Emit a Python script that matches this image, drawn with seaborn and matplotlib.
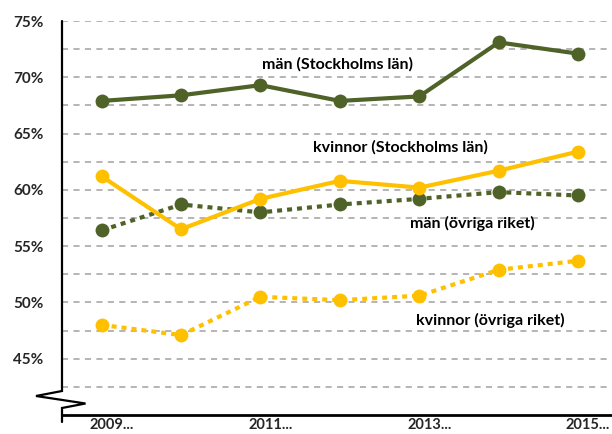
import matplotlib
matplotlib.use("Agg")
import matplotlib.pyplot as plt
import matplotlib.transforms as mtransforms
from matplotlib.lines import Line2D
import seaborn as sns
import pandas as pd

years = [2009, 2010, 2011, 2012, 2013, 2014, 2015]
tick_labels = ["2009...", "2011...", "2013...", "2015..."]
man_sthlm = [67.9, 68.4, 69.3, 67.9, 68.3, 73.1, 72.1]
kv_sthlm = [61.2, 56.5, 59.2, 60.8, 60.2, 61.7, 63.4]
man_ovr = [56.4, 58.7, 58.0, 58.7, 59.2, 59.8, 59.5]
kv_ovr = [48.0, 47.1, 50.5, 50.2, 50.6, 52.9, 53.7]
series_names = ["män (Stockholms län)", "kvinnor (Stockholms län)",
                "män (övriga riket)", "kvinnor (övriga riket)"]

GREEN = "#4F6228"
YELLOW = "#FFC000"

sns.set_style("white")
plt.rcParams["font.family"] = ["Lato", "DejaVu Sans"]
plt.rcParams["font.weight"] = "bold"

W, H = 612, 434
fig = plt.figure(figsize=(W / 100, H / 100), dpi=100)
x0, x1 = 62, 617.75
y_top, y_bot = 21, 415
ax = fig.add_axes([x0 / W, 1 - y_bot / H, (x1 - x0) / W, (y_bot - y_top) / H])

idx = list(range(len(years)))
df = pd.DataFrame({"idx": idx, "ms": man_sthlm, "ks": kv_sthlm, "mo": man_ovr, "ko": kv_ovr})

# gridlines
for g in [42.5 + 2.5 * i for i in range(14)]:
    ax.axhline(g, color="#a0a0a0", lw=1.1, dashes=(4.0, 3.5), zorder=0)

common = dict(marker="o", markersize=10, markeredgewidth=0, lw=3, ax=ax)
sns.lineplot(data=df, x="idx", y="ko", color=YELLOW, linestyle=(0, (1.2, 1.2)),
             dash_capstyle="butt", **common)
sns.lineplot(data=df, x="idx", y="mo", color=GREEN, linestyle=(0, (1.2, 1.2)),
             dash_capstyle="butt", **common)
sns.lineplot(data=df, x="idx", y="ks", color=YELLOW, **common)
sns.lineplot(data=df, x="idx", y="ms", color=GREEN, **common)

ax.set_xlim(-0.5, 6.5)
ax.set_ylim(40, 75)
ax.set_xlabel("")
ax.set_ylabel("")
ax.set_yticks([45, 50, 55, 60, 65, 70, 75])
ax.set_yticklabels([f"{v}%" for v in [45, 50, 55, 60, 65, 70, 75]], fontsize=11, fontweight="bold")
ax.set_xticks([0, 2, 4, 6])
ax.set_xticklabels(tick_labels, fontsize=10.5, fontweight="bold")
ax.tick_params(axis="y", length=0, pad=13.5)
ax.tick_params(axis="x", length=0, pad=2.5)
off = mtransforms.ScaledTranslation(10 / 100, 0, fig.dpi_scale_trans)
for lab in ax.get_xticklabels():
    lab.set_transform(lab.get_transform() + off)

for s in ["top", "right", "left"]:
    ax.spines[s].set_visible(False)
ax.spines["bottom"].set_color("black")
ax.spines["bottom"].set_linewidth(2)

# left spine with axis break, in pixel coordinates
def px(x, y):
    return (x / W, 1 - y / H)

pts = [px(62, 21), px(62, 391), px(36, 396), px(85.5, 403.5), px(62, 408), px(62, 422)]
fig.add_artist(Line2D([p[0] for p in pts], [p[1] for p in pts], color="black", lw=1.6,
                      transform=fig.transFigure, solid_joinstyle="miter"))

# series labels
label_pos = [(338, 64), (400, 147), (472, 223), (490, 320)]
for name, (lx, ly) in zip(series_names, label_pos):
    fig.text(lx / W, 1 - ly / H, name, ha="center", va="center", fontsize=11.5,
             fontweight="bold", color="black")

fig.savefig("out.png", dpi=100)
